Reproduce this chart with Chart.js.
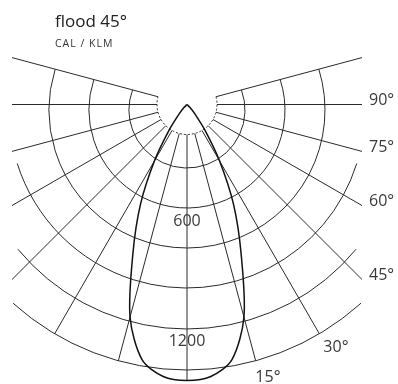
<!DOCTYPE html>
<html><head><meta charset="utf-8">
<script src="https://cdn.jsdelivr.net/npm/chart.js@4/dist/chart.umd.min.js"></script>
<style>html,body{margin:0;padding:0;background:#fff}canvas{display:block}</style>
</head><body>
<canvas id="c" width="398" height="384"></canvas>
<script>
// ---- data ----
const titleText = 'flood 45°';
const unitText = 'CAL / KLM';
// luminous intensity (cd) by angle from nadir (deg), symmetric beam
const curveAngles = [0, 5, 10, 15, 20, 25, 30, 35, 40, 45, 50];
const curveValues = [1380, 1365, 1295, 1100, 790, 550, 325, 155, 60, 20, 0];
// grid rings (cd), their half-span in degrees, and the inner hub
const ringValues = [290, 490, 690, 890, 1095, 1300];
const ringSpans = [105, 105, 105, 72.5, 50.5, 42];
const hubValue = 150;
// spokes (deg from nadir)
const spokeAngles = [-105, -90, -75, -60, -45, -30, -15, 0, 15, 30, 45, 60, 75, 90, 105];
// angle labels
const angleLabelAngles = [90, 75, 60, 45, 30, 15];
const angleLabels = ['90°', '75°', '60°', '45°', '30°', '15°'];
// value labels
const valueLabelValues = [600, 1200];
const valueLabels = ['600', '1200'];

// ---- helpers ----
const RING_DROP = 27.5; // rings are centred slightly below the spoke origin (cd units)
const rad = d => d * Math.PI / 180;
const polar = (deg, v) => ({ x: v * Math.sin(rad(deg)), y: -v * Math.cos(rad(deg)) });
const spokeLen = (deg, R) => {
  const b = RING_DROP * Math.cos(rad(deg));
  return b + Math.sqrt(b * b - RING_DROP * RING_DROP + R * R);
};

const curvePoints = [];
for (let i = curveAngles.length - 1; i > 0; i--) curvePoints.push(polar(-curveAngles[i], curveValues[i]));
for (let i = 0; i < curveAngles.length; i++) curvePoints.push(polar(curveAngles[i], curveValues[i]));

const FONT = '"Open Sans", "DejaVu Sans", sans-serif';

const gridPlugin = {
  id: 'polarGrid',
  beforeDatasetsDraw(chart) {
    const { ctx, chartArea: a, scales: { x, y } } = chart;
    const cx = x.getPixelForValue(0), cy = y.getPixelForValue(0);
    const ry = y.getPixelForValue(-RING_DROP);
    const k = (x.getPixelForValue(1000) - cx) / 1000;
    ctx.save();
    ctx.beginPath();
    ctx.rect(a.left, a.top, a.right - a.left, a.bottom - a.top);
    ctx.clip();
    ctx.strokeStyle = '#2a2a2a';
    ctx.lineWidth = 1;
    const edgeA = spokeAngles[spokeAngles.length - 1];
    // rings
    ringValues.forEach((v, i) => {
      let a0, a1;
      if (ringSpans[i] >= edgeA) {
        const L = spokeLen(edgeA, v);
        const pR = polar(edgeA, L), pL = polar(-edgeA, L);
        a0 = Math.atan2(y.getPixelForValue(pR.y) - ry, x.getPixelForValue(pR.x) - cx);
        a1 = Math.atan2(y.getPixelForValue(pL.y) - ry, x.getPixelForValue(pL.x) - cx);
      } else {
        a0 = rad(90 - ringSpans[i]);
        a1 = rad(90 + ringSpans[i]);
      }
      ctx.beginPath();
      ctx.arc(cx, ry, v * k, a0, a1, false);
      ctx.stroke();
    });
    // spokes (nadir spoke runs down to the beam peak)
    const outer = ringValues[ringValues.length - 1];
    spokeAngles.forEach(d => {
      const len = d === 0 ? Math.max(curveValues[0], spokeLen(d, outer)) : spokeLen(d, outer);
      const p0 = polar(d, hubValue), p1 = polar(d, len);
      ctx.beginPath();
      ctx.moveTo(x.getPixelForValue(p0.x), y.getPixelForValue(p0.y));
      ctx.lineTo(x.getPixelForValue(p1.x), y.getPixelForValue(p1.y));
      ctx.stroke();
    });
    // dotted hub
    ctx.setLineDash([2, 2]);
    ctx.beginPath();
    ctx.arc(cx, cy, hubValue * k, rad(90 - edgeA), rad(90 + edgeA), false);
    ctx.stroke();
    ctx.restore();
  },
  afterDraw(chart) {
    const { ctx, chartArea: a, scales: { x, y } } = chart;
    const cx = x.getPixelForValue(0);
    const outer = ringValues[ringValues.length - 1];
    ctx.save();
    // title
    ctx.fillStyle = '#222';
    ctx.textAlign = 'left';
    ctx.textBaseline = 'alphabetic';
    ctx.font = '17px ' + FONT;
    ctx.fillText(titleText, 55, 27);
    ctx.font = '10.5px ' + FONT;
    try { ctx.letterSpacing = '1px'; } catch (e) {}
    ctx.fillStyle = '#333';
    ctx.fillText(unitText, 55, 47);
    try { ctx.letterSpacing = '0px'; } catch (e) {}
    // angle labels
    ctx.fillStyle = '#3a3a3a';
    ctx.font = '16px ' + FONT;
    ctx.textBaseline = 'middle';
    angleLabelAngles.forEach((d, i) => {
      const p1 = polar(d, spokeLen(d, outer));
      if (p1.x > x.max) {
        const t = x.max / Math.sin(rad(d));
        const ey = y.getPixelForValue(-t * Math.cos(rad(d)));
        ctx.textAlign = 'left';
        ctx.fillText(angleLabels[i], a.right + 7, ey - 4);
      } else {
        const q = polar(d + 1.5, 1425);
        ctx.textAlign = 'center';
        ctx.fillText(angleLabels[i], x.getPixelForValue(q.x), y.getPixelForValue(q.y));
      }
    });
    // value labels
    ctx.textAlign = 'center';
    valueLabelValues.forEach((v, i) => {
      ctx.fillText(valueLabels[i], cx, y.getPixelForValue(-v) - 3);
    });
    ctx.restore();
  }
};

new Chart(document.getElementById('c'), {
  type: 'scatter',
  data: {
    datasets: [{
      data: curvePoints,
      showLine: true,
      borderColor: '#111',
      borderWidth: 1.5,
      pointRadius: 0,
      tension: 0.3,
      clip: false
    }]
  },
  options: {
    responsive: false,
    devicePixelRatio: 1,
    animation: false,
    layout: { padding: { left: 12, right: 36, top: 54, bottom: 0 } },
    scales: {
      x: { type: 'linear', display: false, min: -875, max: 875 },
      y: { type: 'linear', display: false, min: -1397.5, max: 252.5 }
    },
    plugins: { legend: { display: false }, tooltip: { enabled: false }, title: { display: false } }
  },
  plugins: [gridPlugin]
});
</script>
</body></html>
